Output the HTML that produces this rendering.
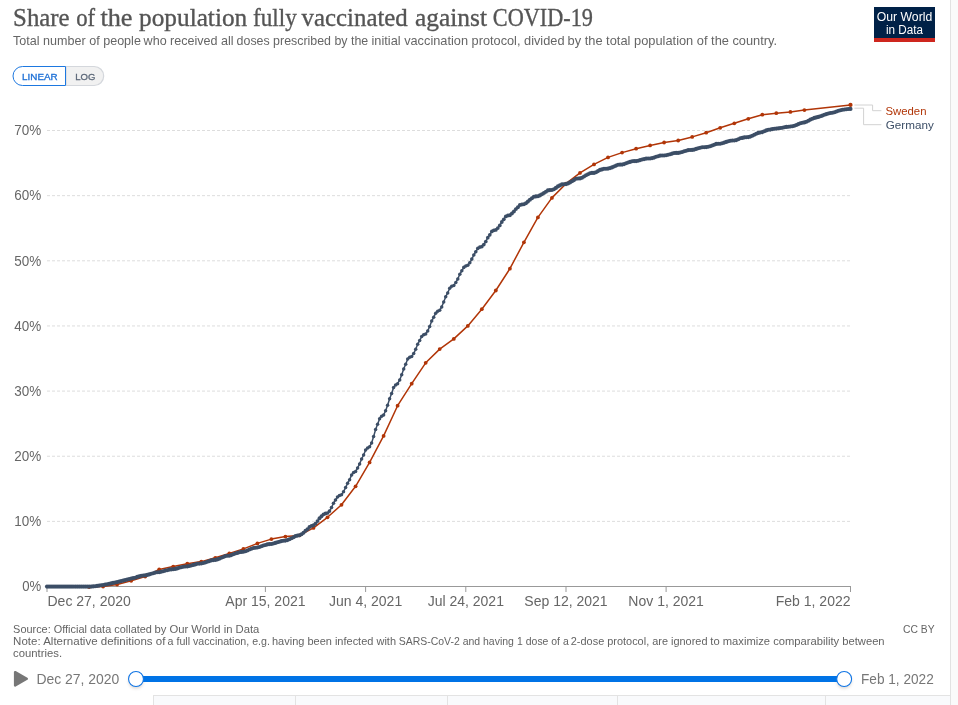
<!DOCTYPE html>
<html lang="en"><head><meta charset="utf-8"><title>Share of the population fully vaccinated against COVID-19</title>
<style>
html,body{margin:0;padding:0;background:#fff;}
body{width:958px;height:705px;overflow:hidden;position:relative;font-family:"Liberation Sans","DejaVu Sans",sans-serif;}
svg{position:absolute;left:0;top:0;display:block;}
text{font-family:"Liberation Sans","DejaVu Sans",sans-serif;}
text.ser{font-family:"Liberation Serif","DejaVu Serif",serif;}
</style></head><body>
<svg width="958" height="705" viewBox="0 0 958 705">
<defs><filter id="hb" x="-50%" y="-50%" width="200%" height="200%"><feGaussianBlur stdDeviation="1.6"/></filter></defs>
<rect x="950.5" y="0" width="8" height="705" fill="#fafafa"/>
<rect x="950" y="0" width="1" height="705" fill="#e2e2e2"/>
<rect x="153" y="695" width="797" height="10" fill="#f9fafc"/>
<rect x="153" y="695" width="797" height="1" fill="#e3e3e3"/>
<rect x="153" y="695" width="1" height="10" fill="#e3e3e3"/>
<rect x="295" y="695" width="1" height="10" fill="#e3e3e3"/>
<rect x="447" y="695" width="1" height="10" fill="#e3e3e3"/>
<rect x="617" y="695" width="1" height="10" fill="#e3e3e3"/>
<rect x="825" y="695" width="1" height="10" fill="#e3e3e3"/>
<text y="26.3" font-size="25.5" fill="#555" class="ser" stroke="#555" stroke-width="0.35"><tspan x="13.1" textLength="56.5" lengthAdjust="spacingAndGlyphs">Share</tspan> <tspan x="76.2" textLength="18.9" lengthAdjust="spacingAndGlyphs">of</tspan> <tspan x="100.4" textLength="32.1" lengthAdjust="spacingAndGlyphs">the</tspan> <tspan x="139.1" textLength="108.1" lengthAdjust="spacingAndGlyphs">population</tspan> <tspan x="253.1" textLength="43.7" lengthAdjust="spacingAndGlyphs">fully</tspan> <tspan x="301.5" textLength="106.3" lengthAdjust="spacingAndGlyphs">vaccinated</tspan> <tspan x="415.0" textLength="72.0" lengthAdjust="spacingAndGlyphs">against</tspan> <tspan x="492.8" textLength="100.2" lengthAdjust="spacingAndGlyphs">COVID-19</tspan></text>
<text y="45" font-size="13" fill="#666"><tspan x="13.1" textLength="127.8" lengthAdjust="spacingAndGlyphs">Total number of people</tspan> <tspan x="143.6" textLength="90.0" lengthAdjust="spacingAndGlyphs">who received all</tspan> <tspan x="236.6" textLength="131.6" lengthAdjust="spacingAndGlyphs">doses prescribed by the</tspan> <tspan x="371.5" textLength="193.0" lengthAdjust="spacingAndGlyphs">initial vaccination protocol, divided</tspan> <tspan x="567.6" textLength="62.8" lengthAdjust="spacingAndGlyphs">by the total</tspan> <tspan x="634.1" textLength="143.0" lengthAdjust="spacingAndGlyphs">population of the country.</tspan></text>
<rect x="874" y="7" width="61" height="35" fill="#002147"/>
<rect x="874" y="38" width="61" height="4" fill="#ce261e"/>
<text x="904.5" y="20.8" font-size="12.3" fill="#fff" text-anchor="middle" textLength="55.5" lengthAdjust="spacingAndGlyphs">Our World</text>
<text x="904.5" y="34.2" font-size="12.3" fill="#fff" text-anchor="middle" textLength="37" lengthAdjust="spacingAndGlyphs">in Data</text>
<path d="M66,66.5 H94.2 A9.5,9.5 0 0 1 94.2,85.5 H66 Z" fill="#f1f1f1" stroke="#d4d7dc" stroke-width="1.2"/>
<path d="M65.5,66.5 H22.5 A9.5,9.5 0 0 0 22.5,85.5 H65.5 Z" fill="#fff" stroke="#1d78e0" stroke-width="1"/>
<text x="22.1" y="79.9" font-size="9.4" fill="#1d70d6" textLength="35.6" lengthAdjust="spacingAndGlyphs" stroke="#1d70d6" stroke-width="0.3">LINEAR</text>
<text x="75.3" y="79.9" font-size="9.4" fill="#5b6778" textLength="20.1" lengthAdjust="spacingAndGlyphs" stroke="#5b6778" stroke-width="0.3">LOG</text>
<text x="41.2" y="591.2" font-size="14" fill="#666" text-anchor="end" textLength="19" lengthAdjust="spacingAndGlyphs">0%</text>
<line x1="47" y1="521.36" x2="850.5" y2="521.36" stroke="#ddd" stroke-width="1" stroke-dasharray="3,2"/>
<text x="41.2" y="526.1" font-size="14" fill="#666" text-anchor="end" textLength="27" lengthAdjust="spacingAndGlyphs">10%</text>
<line x1="47" y1="456.22" x2="850.5" y2="456.22" stroke="#ddd" stroke-width="1" stroke-dasharray="3,2"/>
<text x="41.2" y="460.9" font-size="14" fill="#666" text-anchor="end" textLength="27" lengthAdjust="spacingAndGlyphs">20%</text>
<line x1="47" y1="391.08" x2="850.5" y2="391.08" stroke="#ddd" stroke-width="1" stroke-dasharray="3,2"/>
<text x="41.2" y="395.8" font-size="14" fill="#666" text-anchor="end" textLength="27" lengthAdjust="spacingAndGlyphs">30%</text>
<line x1="47" y1="325.94" x2="850.5" y2="325.94" stroke="#ddd" stroke-width="1" stroke-dasharray="3,2"/>
<text x="41.2" y="330.6" font-size="14" fill="#666" text-anchor="end" textLength="27" lengthAdjust="spacingAndGlyphs">40%</text>
<line x1="47" y1="260.80" x2="850.5" y2="260.80" stroke="#ddd" stroke-width="1" stroke-dasharray="3,2"/>
<text x="41.2" y="265.5" font-size="14" fill="#666" text-anchor="end" textLength="27" lengthAdjust="spacingAndGlyphs">50%</text>
<line x1="47" y1="195.66" x2="850.5" y2="195.66" stroke="#ddd" stroke-width="1" stroke-dasharray="3,2"/>
<text x="41.2" y="200.4" font-size="14" fill="#666" text-anchor="end" textLength="27" lengthAdjust="spacingAndGlyphs">60%</text>
<line x1="47" y1="130.52" x2="850.5" y2="130.52" stroke="#ddd" stroke-width="1" stroke-dasharray="3,2"/>
<text x="41.2" y="135.2" font-size="14" fill="#666" text-anchor="end" textLength="27" lengthAdjust="spacingAndGlyphs">70%</text>
<line x1="46.5" y1="586.5" x2="851" y2="586.5" stroke="#999" stroke-width="1"/>
<line x1="47.0" y1="586.5" x2="47.0" y2="592" stroke="#999" stroke-width="1"/>
<text x="47.5" y="605.8" font-size="14" fill="#666">Dec 27, 2020</text>
<line x1="265.4" y1="586.5" x2="265.4" y2="592" stroke="#999" stroke-width="1"/>
<text x="265.4" y="605.8" font-size="14" fill="#666" text-anchor="middle">Apr 15, 2021</text>
<line x1="365.6" y1="586.5" x2="365.6" y2="592" stroke="#999" stroke-width="1"/>
<text x="365.6" y="605.8" font-size="14" fill="#666" text-anchor="middle">Jun 4, 2021</text>
<line x1="465.8" y1="586.5" x2="465.8" y2="592" stroke="#999" stroke-width="1"/>
<text x="465.8" y="605.8" font-size="14" fill="#666" text-anchor="middle">Jul 24, 2021</text>
<line x1="566.0" y1="586.5" x2="566.0" y2="592" stroke="#999" stroke-width="1"/>
<text x="566.0" y="605.8" font-size="14" fill="#666" text-anchor="middle">Sep 12, 2021</text>
<line x1="666.1" y1="586.5" x2="666.1" y2="592" stroke="#999" stroke-width="1"/>
<text x="666.1" y="605.8" font-size="14" fill="#666" text-anchor="middle">Nov 1, 2021</text>
<line x1="850.5" y1="586.5" x2="850.5" y2="592" stroke="#999" stroke-width="1"/>
<text x="850.5" y="605.8" font-size="14" fill="#666" text-anchor="end">Feb 1, 2022</text>
<g fill="#B13507" stroke="none"><path d="M89.1,587.0 L103.1,586.5 L117.1,584.5 L131.2,580.8 L145.2,576.6 L159.2,569.5 L173.2,566.6 L187.3,563.7 L201.3,561.6 L215.3,557.8 L229.3,553.4 L243.4,548.9 L257.4,543.4 L271.4,539.1 L285.4,536.6 L299.5,535.4 L313.5,527.9 L327.5,517.3 L341.5,504.8 L355.6,486.3 L369.6,462.4 L383.6,435.9 L397.6,405.7 L411.7,383.7 L425.7,362.8 L439.7,349.1 L453.8,338.9 L467.8,325.9 L481.8,309.2 L495.8,290.5 L509.9,268.7 L523.9,242.3 L537.9,217.4 L551.9,197.9 L566.0,183.7 L580.0,172.9 L594.0,164.4 L608.0,157.4 L622.1,152.6 L636.1,148.7 L650.1,145.4 L664.1,142.5 L678.2,140.5 L692.2,136.9 L706.2,132.7 L720.2,127.8 L734.3,123.3 L748.3,118.8 L762.3,114.7 L776.3,113.2 L790.4,111.9 L804.4,110.1 L850.5,104.9" fill="none" stroke="#B13507" stroke-width="1.5" stroke-linejoin="round"/><circle cx="89.1" cy="587.0" r="1.9"/><circle cx="103.1" cy="586.5" r="1.9"/><circle cx="117.1" cy="584.5" r="1.9"/><circle cx="131.2" cy="580.8" r="1.9"/><circle cx="145.2" cy="576.6" r="1.9"/><circle cx="159.2" cy="569.5" r="1.9"/><circle cx="173.2" cy="566.6" r="1.9"/><circle cx="187.3" cy="563.7" r="1.9"/><circle cx="201.3" cy="561.6" r="1.9"/><circle cx="215.3" cy="557.8" r="1.9"/><circle cx="229.3" cy="553.4" r="1.9"/><circle cx="243.4" cy="548.9" r="1.9"/><circle cx="257.4" cy="543.4" r="1.9"/><circle cx="271.4" cy="539.1" r="1.9"/><circle cx="285.4" cy="536.6" r="1.9"/><circle cx="299.5" cy="535.4" r="1.9"/><circle cx="313.5" cy="527.9" r="1.9"/><circle cx="327.5" cy="517.3" r="1.9"/><circle cx="341.5" cy="504.8" r="1.9"/><circle cx="355.6" cy="486.3" r="1.9"/><circle cx="369.6" cy="462.4" r="1.9"/><circle cx="383.6" cy="435.9" r="1.9"/><circle cx="397.6" cy="405.7" r="1.9"/><circle cx="411.7" cy="383.7" r="1.9"/><circle cx="425.7" cy="362.8" r="1.9"/><circle cx="439.7" cy="349.1" r="1.9"/><circle cx="453.8" cy="338.9" r="1.9"/><circle cx="467.8" cy="325.9" r="1.9"/><circle cx="481.8" cy="309.2" r="1.9"/><circle cx="495.8" cy="290.5" r="1.9"/><circle cx="509.9" cy="268.7" r="1.9"/><circle cx="523.9" cy="242.3" r="1.9"/><circle cx="537.9" cy="217.4" r="1.9"/><circle cx="551.9" cy="197.9" r="1.9"/><circle cx="566.0" cy="183.7" r="1.9"/><circle cx="580.0" cy="172.9" r="1.9"/><circle cx="594.0" cy="164.4" r="1.9"/><circle cx="608.0" cy="157.4" r="1.9"/><circle cx="622.1" cy="152.6" r="1.9"/><circle cx="636.1" cy="148.7" r="1.9"/><circle cx="650.1" cy="145.4" r="1.9"/><circle cx="664.1" cy="142.5" r="1.9"/><circle cx="678.2" cy="140.5" r="1.9"/><circle cx="692.2" cy="136.9" r="1.9"/><circle cx="706.2" cy="132.7" r="1.9"/><circle cx="720.2" cy="127.8" r="1.9"/><circle cx="734.3" cy="123.3" r="1.9"/><circle cx="748.3" cy="118.8" r="1.9"/><circle cx="762.3" cy="114.7" r="1.9"/><circle cx="776.3" cy="113.2" r="1.9"/><circle cx="790.4" cy="111.9" r="1.9"/><circle cx="804.4" cy="110.1" r="1.9"/><circle cx="850.5" cy="104.9" r="2.1"/></g>
<g fill="#3C4E66" stroke="none"><path d="M47.0,586.6 L49.0,586.6 L51.0,586.6 L53.0,586.6 L55.0,586.6 L57.0,586.6 L59.0,586.6 L61.0,586.6 L63.0,586.6 L65.0,586.6 L67.0,586.6 L69.0,586.6 L71.0,586.6 L73.0,586.6 L75.1,586.6 L77.1,586.6 L79.1,586.6 L81.1,586.6 L83.1,586.6 L85.1,586.6 L87.1,586.6 L89.1,586.6 L91.1,586.6 L93.1,586.4 L95.1,586.2 L97.1,585.9 L99.1,585.6 L101.1,585.3 L103.1,585.0 L105.1,584.6 L107.1,584.2 L109.1,583.8 L111.1,583.4 L113.1,582.9 L115.1,582.5 L117.1,582.1 L119.1,581.6 L121.1,581.1 L123.1,580.6 L125.1,580.1 L127.1,579.6 L129.2,579.1 L131.2,578.5 L133.2,578.0 L135.2,577.7 L137.2,576.9 L139.2,576.4 L141.2,575.8 L143.2,575.5 L145.2,575.4 L147.2,574.9 L149.2,574.4 L151.2,573.7 L153.2,573.2 L155.2,572.6 L157.2,572.3 L159.2,572.2 L161.2,571.8 L163.2,571.3 L165.2,570.6 L167.2,570.2 L169.2,569.6 L171.2,569.4 L173.2,569.3 L175.2,568.9 L177.2,568.4 L179.2,567.8 L181.2,567.3 L183.3,566.8 L185.3,566.5 L187.3,566.4 L189.3,566.0 L191.3,565.5 L193.3,564.9 L195.3,564.4 L197.3,563.8 L199.3,563.6 L201.3,563.5 L203.3,563.0 L205.3,562.5 L207.3,561.7 L209.3,561.1 L211.3,560.4 L213.3,560.1 L215.3,559.9 L217.3,559.4 L219.3,558.7 L221.3,557.7 L223.3,557.0 L225.3,556.1 L227.3,555.8 L229.3,555.7 L231.3,555.1 L233.3,554.3 L235.3,553.5 L237.4,552.9 L239.4,552.2 L241.4,551.9 L243.4,551.8 L245.4,551.2 L247.4,550.5 L249.4,549.5 L251.4,548.7 L253.4,548.0 L255.4,547.7 L257.4,547.5 L259.4,547.0 L261.4,546.3 L263.4,545.5 L265.4,545.0 L267.4,544.4 L269.4,544.1 L271.4,544.0 L273.4,543.5 L275.4,542.9 L277.4,542.2 L279.4,541.7 L281.4,541.1 L283.4,540.8 L285.4,540.6 L287.4,540.1 L289.4,539.3 L291.5,538.2 L293.5,537.2 L295.5,536.1 L297.5,535.6 L299.5,535.3 L301.5,534.3 L303.5,532.7 L305.5,530.8 L307.5,529.2 L309.5,527.0 L311.5,525.9 L313.5,525.3 L315.5,523.6 L317.5,521.1 L319.5,518.3 L321.5,516.3 L323.5,514.3 L325.5,513.5 L327.5,513.0 L329.5,511.1 L331.5,507.5 L333.5,503.2 L335.5,500.0 L337.5,497.0 L339.5,495.6 L341.5,494.7 L343.5,491.7 L345.6,487.6 L347.6,483.2 L349.6,479.7 L351.6,474.9 L353.6,472.5 L355.6,471.4 L357.6,468.0 L359.6,463.9 L361.6,459.0 L363.6,455.0 L365.6,450.1 L367.6,447.9 L369.6,446.8 L371.6,442.9 L373.6,436.6 L375.6,429.5 L377.6,424.3 L379.6,418.7 L381.6,416.2 L383.6,415.0 L385.6,410.8 L387.6,405.3 L389.6,398.8 L391.6,393.5 L393.6,387.4 L395.6,384.9 L397.6,383.7 L399.7,379.9 L401.7,374.8 L403.7,368.9 L405.7,364.2 L407.7,359.1 L409.7,357.2 L411.7,356.4 L413.7,353.6 L415.7,349.2 L417.7,344.2 L419.7,340.5 L421.7,336.5 L423.7,334.8 L425.7,333.9 L427.7,330.9 L429.7,326.5 L431.7,321.1 L433.7,317.2 L435.7,313.2 L437.7,311.3 L439.7,310.3 L441.7,306.9 L443.7,302.0 L445.7,296.7 L447.7,292.9 L449.7,288.3 L451.7,286.3 L453.8,285.4 L455.8,282.6 L457.8,278.9 L459.8,274.3 L461.8,270.8 L463.8,267.4 L465.8,266.0 L467.8,265.3 L469.8,262.8 L471.8,259.1 L473.8,255.0 L475.8,251.7 L477.8,248.4 L479.8,247.2 L481.8,246.7 L483.8,244.6 L485.8,241.5 L487.8,237.7 L489.8,234.8 L491.8,231.4 L493.8,230.3 L495.8,229.9 L497.8,228.1 L499.8,225.4 L501.8,222.0 L503.8,219.3 L505.8,216.4 L507.9,215.5 L509.9,215.2 L511.9,213.5 L513.9,211.5 L515.9,209.1 L517.9,207.2 L519.9,205.0 L521.9,204.5 L523.9,204.2 L525.9,203.2 L527.9,201.6 L529.9,199.7 L531.9,198.3 L533.9,196.8 L535.9,196.4 L537.9,196.3 L539.9,195.4 L541.9,194.3 L543.9,193.0 L545.9,191.7 L547.9,190.4 L549.9,190.1 L551.9,190.0 L553.9,189.2 L555.9,187.9 L557.9,186.4 L559.9,185.4 L562.0,184.4 L564.0,184.2 L566.0,184.1 L568.0,183.4 L570.0,182.4 L572.0,181.3 L574.0,180.1 L576.0,178.8 L578.0,178.5 L580.0,178.4 L582.0,177.7 L584.0,176.5 L586.0,175.2 L588.0,174.2 L590.0,173.2 L592.0,172.9 L594.0,172.9 L596.0,172.2 L598.0,171.1 L600.0,169.9 L602.0,169.4 L604.0,168.8 L606.0,168.7 L608.0,168.6 L610.0,168.1 L612.0,167.4 L614.0,166.5 L616.1,165.6 L618.1,164.8 L620.1,164.6 L622.1,164.6 L624.1,164.1 L626.1,163.3 L628.1,162.5 L630.1,161.9 L632.1,161.3 L634.1,161.1 L636.1,161.1 L638.1,160.7 L640.1,160.1 L642.1,159.5 L644.1,159.1 L646.1,158.6 L648.1,158.5 L650.1,158.5 L652.1,158.1 L654.1,157.6 L656.1,156.8 L658.1,156.2 L660.1,155.6 L662.1,155.5 L664.1,155.5 L666.1,155.2 L668.1,154.7 L670.2,154.2 L672.2,153.6 L674.2,153.0 L676.2,152.9 L678.2,152.9 L680.2,152.5 L682.2,152.0 L684.2,151.3 L686.2,150.7 L688.2,150.1 L690.2,150.0 L692.2,149.9 L694.2,149.6 L696.2,148.9 L698.2,148.2 L700.2,147.8 L702.2,147.3 L704.2,147.2 L706.2,147.1 L708.2,146.8 L710.2,146.2 L712.2,145.5 L714.2,144.7 L716.2,143.9 L718.2,143.7 L720.2,143.7 L722.2,143.2 L724.3,142.6 L726.3,141.9 L728.3,141.3 L730.3,140.7 L732.3,140.5 L734.3,140.5 L736.3,140.1 L738.3,139.2 L740.3,138.3 L742.3,137.9 L744.3,137.4 L746.3,137.2 L748.3,137.1 L750.3,136.6 L752.3,135.8 L754.3,134.8 L756.3,133.8 L758.3,132.9 L760.3,132.5 L762.3,132.1 L764.3,131.3 L766.3,130.4 L768.3,129.8 L770.3,129.6 L772.3,129.1 L774.3,128.8 L776.3,128.6 L778.4,128.3 L780.4,128.0 L782.4,127.7 L784.4,127.3 L786.4,126.9 L788.4,126.7 L790.4,126.5 L792.4,126.2 L794.4,125.7 L796.4,125.0 L798.4,124.1 L800.4,123.3 L802.4,122.8 L804.4,122.4 L806.4,121.7 L808.4,120.7 L810.4,119.6 L812.4,118.7 L814.4,117.9 L816.4,117.4 L818.4,116.9 L820.4,116.3 L822.4,115.6 L824.4,114.8 L826.4,114.1 L828.4,113.5 L830.4,113.0 L832.5,112.7 L834.5,112.2 L836.5,111.5 L838.5,110.8 L840.5,110.2 L842.5,109.8 L844.5,109.5 L846.5,109.3 L848.5,109.0 L850.5,108.9" fill="none" stroke="#3C4E66" stroke-width="1.5" stroke-linejoin="round"/><circle cx="47.0" cy="586.6" r="2.05"/><circle cx="49.0" cy="586.6" r="2.05"/><circle cx="51.0" cy="586.6" r="2.05"/><circle cx="53.0" cy="586.6" r="2.05"/><circle cx="55.0" cy="586.6" r="2.05"/><circle cx="57.0" cy="586.6" r="2.05"/><circle cx="59.0" cy="586.6" r="2.05"/><circle cx="61.0" cy="586.6" r="2.05"/><circle cx="63.0" cy="586.6" r="2.05"/><circle cx="65.0" cy="586.6" r="2.05"/><circle cx="67.0" cy="586.6" r="2.05"/><circle cx="69.0" cy="586.6" r="2.05"/><circle cx="71.0" cy="586.6" r="2.05"/><circle cx="73.0" cy="586.6" r="2.05"/><circle cx="75.1" cy="586.6" r="2.05"/><circle cx="77.1" cy="586.6" r="2.05"/><circle cx="79.1" cy="586.6" r="2.05"/><circle cx="81.1" cy="586.6" r="2.05"/><circle cx="83.1" cy="586.6" r="2.05"/><circle cx="85.1" cy="586.6" r="2.05"/><circle cx="87.1" cy="586.6" r="2.05"/><circle cx="89.1" cy="586.6" r="2.05"/><circle cx="91.1" cy="586.6" r="2.05"/><circle cx="93.1" cy="586.4" r="2.05"/><circle cx="95.1" cy="586.2" r="2.05"/><circle cx="97.1" cy="585.9" r="2.05"/><circle cx="99.1" cy="585.6" r="2.05"/><circle cx="101.1" cy="585.3" r="2.05"/><circle cx="103.1" cy="585.0" r="2.05"/><circle cx="105.1" cy="584.6" r="2.05"/><circle cx="107.1" cy="584.2" r="2.05"/><circle cx="109.1" cy="583.8" r="2.05"/><circle cx="111.1" cy="583.4" r="2.05"/><circle cx="113.1" cy="582.9" r="2.05"/><circle cx="115.1" cy="582.5" r="2.05"/><circle cx="117.1" cy="582.1" r="2.05"/><circle cx="119.1" cy="581.6" r="2.05"/><circle cx="121.1" cy="581.1" r="2.05"/><circle cx="123.1" cy="580.6" r="2.05"/><circle cx="125.1" cy="580.1" r="2.05"/><circle cx="127.1" cy="579.6" r="2.05"/><circle cx="129.2" cy="579.1" r="2.05"/><circle cx="131.2" cy="578.5" r="2.05"/><circle cx="133.2" cy="578.0" r="2.05"/><circle cx="135.2" cy="577.7" r="2.05"/><circle cx="137.2" cy="576.9" r="2.05"/><circle cx="139.2" cy="576.4" r="2.05"/><circle cx="141.2" cy="575.8" r="2.05"/><circle cx="143.2" cy="575.5" r="2.05"/><circle cx="145.2" cy="575.4" r="2.05"/><circle cx="147.2" cy="574.9" r="2.05"/><circle cx="149.2" cy="574.4" r="2.05"/><circle cx="151.2" cy="573.7" r="2.05"/><circle cx="153.2" cy="573.2" r="2.05"/><circle cx="155.2" cy="572.6" r="2.05"/><circle cx="157.2" cy="572.3" r="2.05"/><circle cx="159.2" cy="572.2" r="2.05"/><circle cx="161.2" cy="571.8" r="2.05"/><circle cx="163.2" cy="571.3" r="2.05"/><circle cx="165.2" cy="570.6" r="2.05"/><circle cx="167.2" cy="570.2" r="2.05"/><circle cx="169.2" cy="569.6" r="2.05"/><circle cx="171.2" cy="569.4" r="2.05"/><circle cx="173.2" cy="569.3" r="2.05"/><circle cx="175.2" cy="568.9" r="2.05"/><circle cx="177.2" cy="568.4" r="2.05"/><circle cx="179.2" cy="567.8" r="2.05"/><circle cx="181.2" cy="567.3" r="2.05"/><circle cx="183.3" cy="566.8" r="2.05"/><circle cx="185.3" cy="566.5" r="2.05"/><circle cx="187.3" cy="566.4" r="2.05"/><circle cx="189.3" cy="566.0" r="2.05"/><circle cx="191.3" cy="565.5" r="2.05"/><circle cx="193.3" cy="564.9" r="2.05"/><circle cx="195.3" cy="564.4" r="2.05"/><circle cx="197.3" cy="563.8" r="2.05"/><circle cx="199.3" cy="563.6" r="2.05"/><circle cx="201.3" cy="563.5" r="2.05"/><circle cx="203.3" cy="563.0" r="2.05"/><circle cx="205.3" cy="562.5" r="2.05"/><circle cx="207.3" cy="561.7" r="2.05"/><circle cx="209.3" cy="561.1" r="2.05"/><circle cx="211.3" cy="560.4" r="2.05"/><circle cx="213.3" cy="560.1" r="2.05"/><circle cx="215.3" cy="559.9" r="2.05"/><circle cx="217.3" cy="559.4" r="2.05"/><circle cx="219.3" cy="558.7" r="2.05"/><circle cx="221.3" cy="557.7" r="2.05"/><circle cx="223.3" cy="557.0" r="2.05"/><circle cx="225.3" cy="556.1" r="2.05"/><circle cx="227.3" cy="555.8" r="2.05"/><circle cx="229.3" cy="555.7" r="2.05"/><circle cx="231.3" cy="555.1" r="2.05"/><circle cx="233.3" cy="554.3" r="2.05"/><circle cx="235.3" cy="553.5" r="2.05"/><circle cx="237.4" cy="552.9" r="2.05"/><circle cx="239.4" cy="552.2" r="2.05"/><circle cx="241.4" cy="551.9" r="2.05"/><circle cx="243.4" cy="551.8" r="2.05"/><circle cx="245.4" cy="551.2" r="2.05"/><circle cx="247.4" cy="550.5" r="2.05"/><circle cx="249.4" cy="549.5" r="2.05"/><circle cx="251.4" cy="548.7" r="2.05"/><circle cx="253.4" cy="548.0" r="2.05"/><circle cx="255.4" cy="547.7" r="2.05"/><circle cx="257.4" cy="547.5" r="2.05"/><circle cx="259.4" cy="547.0" r="2.05"/><circle cx="261.4" cy="546.3" r="2.05"/><circle cx="263.4" cy="545.5" r="2.05"/><circle cx="265.4" cy="545.0" r="2.05"/><circle cx="267.4" cy="544.4" r="2.05"/><circle cx="269.4" cy="544.1" r="2.05"/><circle cx="271.4" cy="544.0" r="2.05"/><circle cx="273.4" cy="543.5" r="2.05"/><circle cx="275.4" cy="542.9" r="2.05"/><circle cx="277.4" cy="542.2" r="2.05"/><circle cx="279.4" cy="541.7" r="2.05"/><circle cx="281.4" cy="541.1" r="2.05"/><circle cx="283.4" cy="540.8" r="2.05"/><circle cx="285.4" cy="540.6" r="2.05"/><circle cx="287.4" cy="540.1" r="2.05"/><circle cx="289.4" cy="539.3" r="2.05"/><circle cx="291.5" cy="538.2" r="2.05"/><circle cx="293.5" cy="537.2" r="2.05"/><circle cx="295.5" cy="536.1" r="2.05"/><circle cx="297.5" cy="535.6" r="2.05"/><circle cx="299.5" cy="535.3" r="2.04"/><circle cx="301.5" cy="534.3" r="2.02"/><circle cx="303.5" cy="532.7" r="2.00"/><circle cx="305.5" cy="530.8" r="1.99"/><circle cx="307.5" cy="529.2" r="1.98"/><circle cx="309.5" cy="527.0" r="1.96"/><circle cx="311.5" cy="525.9" r="1.94"/><circle cx="313.5" cy="525.3" r="1.93"/><circle cx="315.5" cy="523.6" r="1.93"/><circle cx="317.5" cy="521.1" r="1.93"/><circle cx="319.5" cy="518.3" r="1.94"/><circle cx="321.5" cy="516.3" r="1.94"/><circle cx="323.5" cy="514.3" r="1.92"/><circle cx="325.5" cy="513.5" r="1.89"/><circle cx="327.5" cy="513.0" r="1.86"/><circle cx="329.5" cy="511.1" r="1.84"/><circle cx="331.5" cy="507.5" r="1.82"/><circle cx="333.5" cy="503.2" r="1.81"/><circle cx="335.5" cy="500.0" r="1.80"/><circle cx="337.5" cy="497.0" r="1.78"/><circle cx="339.5" cy="495.6" r="1.77"/><circle cx="341.5" cy="494.7" r="1.77"/><circle cx="343.5" cy="491.7" r="1.75"/><circle cx="345.6" cy="487.6" r="1.75"/><circle cx="347.6" cy="483.2" r="1.75"/><circle cx="349.6" cy="479.7" r="1.75"/><circle cx="351.6" cy="474.9" r="1.75"/><circle cx="353.6" cy="472.5" r="1.75"/><circle cx="355.6" cy="471.4" r="1.75"/><circle cx="357.6" cy="468.0" r="1.75"/><circle cx="359.6" cy="463.9" r="1.75"/><circle cx="361.6" cy="459.0" r="1.75"/><circle cx="363.6" cy="455.0" r="1.75"/><circle cx="365.6" cy="450.1" r="1.75"/><circle cx="367.6" cy="447.9" r="1.75"/><circle cx="369.6" cy="446.8" r="1.75"/><circle cx="371.6" cy="442.9" r="1.75"/><circle cx="373.6" cy="436.6" r="1.75"/><circle cx="375.6" cy="429.5" r="1.75"/><circle cx="377.6" cy="424.3" r="1.75"/><circle cx="379.6" cy="418.7" r="1.75"/><circle cx="381.6" cy="416.2" r="1.75"/><circle cx="383.6" cy="415.0" r="1.75"/><circle cx="385.6" cy="410.8" r="1.75"/><circle cx="387.6" cy="405.3" r="1.75"/><circle cx="389.6" cy="398.8" r="1.75"/><circle cx="391.6" cy="393.5" r="1.75"/><circle cx="393.6" cy="387.4" r="1.75"/><circle cx="395.6" cy="384.9" r="1.75"/><circle cx="397.6" cy="383.7" r="1.75"/><circle cx="399.7" cy="379.9" r="1.75"/><circle cx="401.7" cy="374.8" r="1.75"/><circle cx="403.7" cy="368.9" r="1.75"/><circle cx="405.7" cy="364.2" r="1.75"/><circle cx="407.7" cy="359.1" r="1.75"/><circle cx="409.7" cy="357.2" r="1.75"/><circle cx="411.7" cy="356.4" r="1.75"/><circle cx="413.7" cy="353.6" r="1.75"/><circle cx="415.7" cy="349.2" r="1.75"/><circle cx="417.7" cy="344.2" r="1.75"/><circle cx="419.7" cy="340.5" r="1.75"/><circle cx="421.7" cy="336.5" r="1.75"/><circle cx="423.7" cy="334.8" r="1.75"/><circle cx="425.7" cy="333.9" r="1.75"/><circle cx="427.7" cy="330.9" r="1.75"/><circle cx="429.7" cy="326.5" r="1.75"/><circle cx="431.7" cy="321.1" r="1.75"/><circle cx="433.7" cy="317.2" r="1.75"/><circle cx="435.7" cy="313.2" r="1.75"/><circle cx="437.7" cy="311.3" r="1.75"/><circle cx="439.7" cy="310.3" r="1.75"/><circle cx="441.7" cy="306.9" r="1.75"/><circle cx="443.7" cy="302.0" r="1.75"/><circle cx="445.7" cy="296.7" r="1.75"/><circle cx="447.7" cy="292.9" r="1.75"/><circle cx="449.7" cy="288.3" r="1.75"/><circle cx="451.7" cy="286.3" r="1.75"/><circle cx="453.8" cy="285.4" r="1.75"/><circle cx="455.8" cy="282.6" r="1.75"/><circle cx="457.8" cy="278.9" r="1.76"/><circle cx="459.8" cy="274.3" r="1.77"/><circle cx="461.8" cy="270.8" r="1.77"/><circle cx="463.8" cy="267.4" r="1.78"/><circle cx="465.8" cy="266.0" r="1.78"/><circle cx="467.8" cy="265.3" r="1.79"/><circle cx="469.8" cy="262.8" r="1.79"/><circle cx="471.8" cy="259.1" r="1.80"/><circle cx="473.8" cy="255.0" r="1.80"/><circle cx="475.8" cy="251.7" r="1.81"/><circle cx="477.8" cy="248.4" r="1.82"/><circle cx="479.8" cy="247.2" r="1.83"/><circle cx="481.8" cy="246.7" r="1.83"/><circle cx="483.8" cy="244.6" r="1.84"/><circle cx="485.8" cy="241.5" r="1.84"/><circle cx="487.8" cy="237.7" r="1.84"/><circle cx="489.8" cy="234.8" r="1.84"/><circle cx="491.8" cy="231.4" r="1.85"/><circle cx="493.8" cy="230.3" r="1.86"/><circle cx="495.8" cy="229.9" r="1.87"/><circle cx="497.8" cy="228.1" r="1.87"/><circle cx="499.8" cy="225.4" r="1.88"/><circle cx="501.8" cy="222.0" r="1.88"/><circle cx="503.8" cy="219.3" r="1.89"/><circle cx="505.8" cy="216.4" r="1.90"/><circle cx="507.9" cy="215.5" r="1.91"/><circle cx="509.9" cy="215.2" r="1.93"/><circle cx="511.9" cy="213.5" r="1.95"/><circle cx="513.9" cy="211.5" r="1.96"/><circle cx="515.9" cy="209.1" r="1.96"/><circle cx="517.9" cy="207.2" r="1.97"/><circle cx="519.9" cy="205.0" r="1.98"/><circle cx="521.9" cy="204.5" r="1.99"/><circle cx="523.9" cy="204.2" r="2.00"/><circle cx="525.9" cy="203.2" r="2.02"/><circle cx="527.9" cy="201.6" r="2.03"/><circle cx="529.9" cy="199.7" r="2.03"/><circle cx="531.9" cy="198.3" r="2.03"/><circle cx="533.9" cy="196.8" r="2.04"/><circle cx="535.9" cy="196.4" r="2.05"/><circle cx="537.9" cy="196.3" r="2.05"/><circle cx="539.9" cy="195.4" r="2.05"/><circle cx="541.9" cy="194.3" r="2.05"/><circle cx="543.9" cy="193.0" r="2.05"/><circle cx="545.9" cy="191.7" r="2.05"/><circle cx="547.9" cy="190.4" r="2.05"/><circle cx="549.9" cy="190.1" r="2.05"/><circle cx="551.9" cy="190.0" r="2.05"/><circle cx="553.9" cy="189.2" r="2.05"/><circle cx="555.9" cy="187.9" r="2.05"/><circle cx="557.9" cy="186.4" r="2.05"/><circle cx="559.9" cy="185.4" r="2.05"/><circle cx="562.0" cy="184.4" r="2.05"/><circle cx="564.0" cy="184.2" r="2.05"/><circle cx="566.0" cy="184.1" r="2.05"/><circle cx="568.0" cy="183.4" r="2.05"/><circle cx="570.0" cy="182.4" r="2.05"/><circle cx="572.0" cy="181.3" r="2.05"/><circle cx="574.0" cy="180.1" r="2.05"/><circle cx="576.0" cy="178.8" r="2.05"/><circle cx="578.0" cy="178.5" r="2.05"/><circle cx="580.0" cy="178.4" r="2.05"/><circle cx="582.0" cy="177.7" r="2.05"/><circle cx="584.0" cy="176.5" r="2.05"/><circle cx="586.0" cy="175.2" r="2.05"/><circle cx="588.0" cy="174.2" r="2.05"/><circle cx="590.0" cy="173.2" r="2.05"/><circle cx="592.0" cy="172.9" r="2.05"/><circle cx="594.0" cy="172.9" r="2.05"/><circle cx="596.0" cy="172.2" r="2.05"/><circle cx="598.0" cy="171.1" r="2.05"/><circle cx="600.0" cy="169.9" r="2.05"/><circle cx="602.0" cy="169.4" r="2.05"/><circle cx="604.0" cy="168.8" r="2.05"/><circle cx="606.0" cy="168.7" r="2.05"/><circle cx="608.0" cy="168.6" r="2.05"/><circle cx="610.0" cy="168.1" r="2.05"/><circle cx="612.0" cy="167.4" r="2.05"/><circle cx="614.0" cy="166.5" r="2.05"/><circle cx="616.1" cy="165.6" r="2.05"/><circle cx="618.1" cy="164.8" r="2.05"/><circle cx="620.1" cy="164.6" r="2.05"/><circle cx="622.1" cy="164.6" r="2.05"/><circle cx="624.1" cy="164.1" r="2.05"/><circle cx="626.1" cy="163.3" r="2.05"/><circle cx="628.1" cy="162.5" r="2.05"/><circle cx="630.1" cy="161.9" r="2.05"/><circle cx="632.1" cy="161.3" r="2.05"/><circle cx="634.1" cy="161.1" r="2.05"/><circle cx="636.1" cy="161.1" r="2.05"/><circle cx="638.1" cy="160.7" r="2.05"/><circle cx="640.1" cy="160.1" r="2.05"/><circle cx="642.1" cy="159.5" r="2.05"/><circle cx="644.1" cy="159.1" r="2.05"/><circle cx="646.1" cy="158.6" r="2.05"/><circle cx="648.1" cy="158.5" r="2.05"/><circle cx="650.1" cy="158.5" r="2.05"/><circle cx="652.1" cy="158.1" r="2.05"/><circle cx="654.1" cy="157.6" r="2.05"/><circle cx="656.1" cy="156.8" r="2.05"/><circle cx="658.1" cy="156.2" r="2.05"/><circle cx="660.1" cy="155.6" r="2.05"/><circle cx="662.1" cy="155.5" r="2.05"/><circle cx="664.1" cy="155.5" r="2.05"/><circle cx="666.1" cy="155.2" r="2.05"/><circle cx="668.1" cy="154.7" r="2.05"/><circle cx="670.2" cy="154.2" r="2.05"/><circle cx="672.2" cy="153.6" r="2.05"/><circle cx="674.2" cy="153.0" r="2.05"/><circle cx="676.2" cy="152.9" r="2.05"/><circle cx="678.2" cy="152.9" r="2.05"/><circle cx="680.2" cy="152.5" r="2.05"/><circle cx="682.2" cy="152.0" r="2.05"/><circle cx="684.2" cy="151.3" r="2.05"/><circle cx="686.2" cy="150.7" r="2.05"/><circle cx="688.2" cy="150.1" r="2.05"/><circle cx="690.2" cy="150.0" r="2.05"/><circle cx="692.2" cy="149.9" r="2.05"/><circle cx="694.2" cy="149.6" r="2.05"/><circle cx="696.2" cy="148.9" r="2.05"/><circle cx="698.2" cy="148.2" r="2.05"/><circle cx="700.2" cy="147.8" r="2.05"/><circle cx="702.2" cy="147.3" r="2.05"/><circle cx="704.2" cy="147.2" r="2.05"/><circle cx="706.2" cy="147.1" r="2.05"/><circle cx="708.2" cy="146.8" r="2.05"/><circle cx="710.2" cy="146.2" r="2.05"/><circle cx="712.2" cy="145.5" r="2.05"/><circle cx="714.2" cy="144.7" r="2.05"/><circle cx="716.2" cy="143.9" r="2.05"/><circle cx="718.2" cy="143.7" r="2.05"/><circle cx="720.2" cy="143.7" r="2.05"/><circle cx="722.2" cy="143.2" r="2.05"/><circle cx="724.3" cy="142.6" r="2.05"/><circle cx="726.3" cy="141.9" r="2.05"/><circle cx="728.3" cy="141.3" r="2.05"/><circle cx="730.3" cy="140.7" r="2.05"/><circle cx="732.3" cy="140.5" r="2.05"/><circle cx="734.3" cy="140.5" r="2.05"/><circle cx="736.3" cy="140.1" r="2.05"/><circle cx="738.3" cy="139.2" r="2.05"/><circle cx="740.3" cy="138.3" r="2.05"/><circle cx="742.3" cy="137.9" r="2.05"/><circle cx="744.3" cy="137.4" r="2.05"/><circle cx="746.3" cy="137.2" r="2.05"/><circle cx="748.3" cy="137.1" r="2.05"/><circle cx="750.3" cy="136.6" r="2.05"/><circle cx="752.3" cy="135.8" r="2.05"/><circle cx="754.3" cy="134.8" r="2.05"/><circle cx="756.3" cy="133.8" r="2.05"/><circle cx="758.3" cy="132.9" r="2.05"/><circle cx="760.3" cy="132.5" r="2.05"/><circle cx="762.3" cy="132.1" r="2.05"/><circle cx="764.3" cy="131.3" r="2.05"/><circle cx="766.3" cy="130.4" r="2.05"/><circle cx="768.3" cy="129.8" r="2.05"/><circle cx="770.3" cy="129.6" r="2.05"/><circle cx="772.3" cy="129.1" r="2.05"/><circle cx="774.3" cy="128.8" r="2.05"/><circle cx="776.3" cy="128.6" r="2.05"/><circle cx="778.4" cy="128.3" r="2.05"/><circle cx="780.4" cy="128.0" r="2.05"/><circle cx="782.4" cy="127.7" r="2.05"/><circle cx="784.4" cy="127.3" r="2.05"/><circle cx="786.4" cy="126.9" r="2.05"/><circle cx="788.4" cy="126.7" r="2.05"/><circle cx="790.4" cy="126.5" r="2.05"/><circle cx="792.4" cy="126.2" r="2.05"/><circle cx="794.4" cy="125.7" r="2.05"/><circle cx="796.4" cy="125.0" r="2.05"/><circle cx="798.4" cy="124.1" r="2.05"/><circle cx="800.4" cy="123.3" r="2.05"/><circle cx="802.4" cy="122.8" r="2.05"/><circle cx="804.4" cy="122.4" r="2.05"/><circle cx="806.4" cy="121.7" r="2.05"/><circle cx="808.4" cy="120.7" r="2.05"/><circle cx="810.4" cy="119.6" r="2.05"/><circle cx="812.4" cy="118.7" r="2.05"/><circle cx="814.4" cy="117.9" r="2.05"/><circle cx="816.4" cy="117.4" r="2.05"/><circle cx="818.4" cy="116.9" r="2.05"/><circle cx="820.4" cy="116.3" r="2.05"/><circle cx="822.4" cy="115.6" r="2.05"/><circle cx="824.4" cy="114.8" r="2.05"/><circle cx="826.4" cy="114.1" r="2.05"/><circle cx="828.4" cy="113.5" r="2.05"/><circle cx="830.4" cy="113.0" r="2.05"/><circle cx="832.5" cy="112.7" r="2.05"/><circle cx="834.5" cy="112.2" r="2.05"/><circle cx="836.5" cy="111.5" r="2.05"/><circle cx="838.5" cy="110.8" r="2.05"/><circle cx="840.5" cy="110.2" r="2.05"/><circle cx="842.5" cy="109.8" r="2.05"/><circle cx="844.5" cy="109.5" r="2.05"/><circle cx="846.5" cy="109.3" r="2.05"/><circle cx="848.5" cy="109.0" r="2.05"/><circle cx="850.5" cy="108.9" r="2.05"/></g>
<path d="M854.4,105 H872.6 V110.7 H881.4 M854.4,108.2 H863.6 V124.7 H881.4" fill="none" stroke="#d2d2d2" stroke-width="1"/>
<text x="885.5" y="115.3" font-size="10.8" fill="#B13507" textLength="41" lengthAdjust="spacingAndGlyphs">Sweden</text>
<text x="885.8" y="129.1" font-size="10.8" fill="#3C4E66" textLength="48" lengthAdjust="spacingAndGlyphs">Germany</text>
<text y="632.8" font-size="11" fill="#646464"><tspan x="13.1" textLength="138.8" lengthAdjust="spacingAndGlyphs">Source: Official data collated</tspan> <tspan x="154.4" textLength="105.0" lengthAdjust="spacingAndGlyphs">by Our World in Data</tspan></text>
<text y="644.8" font-size="11" fill="#646464"><tspan x="13.1" textLength="152.3" lengthAdjust="spacingAndGlyphs">Note: Alternative definitions of</tspan> <tspan x="167.6" textLength="102.3" lengthAdjust="spacingAndGlyphs">a full vaccination, e.g.</tspan> <tspan x="272.0" textLength="124.0" lengthAdjust="spacingAndGlyphs">having been infected with</tspan> <tspan x="398.7" textLength="115.2" lengthAdjust="spacingAndGlyphs">SARS-CoV-2 and having</tspan> <tspan x="517.1" textLength="51.6" lengthAdjust="spacingAndGlyphs">1 dose of a</tspan> <tspan x="570.8" textLength="136.7" lengthAdjust="spacingAndGlyphs">2-dose protocol, are ignored</tspan> <tspan x="710.3" textLength="174.3" lengthAdjust="spacingAndGlyphs">to maximize comparability between</tspan></text>
<text y="656.8" font-size="11" fill="#646464"><tspan x="13.1" textLength="49.0" lengthAdjust="spacingAndGlyphs">countries.</tspan></text>
<text y="632.8" font-size="11" fill="#646464"><tspan x="903.0" textLength="31.6" lengthAdjust="spacingAndGlyphs">CC BY</tspan></text>
<path d="M15.1,672.1 L26.8,678.8 L15.1,685.5 Z" fill="#777" stroke="#777" stroke-width="2.4" stroke-linejoin="round"/>
<text x="36.4" y="683.7" font-size="14" fill="#777" textLength="83" lengthAdjust="spacingAndGlyphs">Dec 27, 2020</text>
<text x="933.8" y="683.6" font-size="14" fill="#777" text-anchor="end" textLength="72.8" lengthAdjust="spacingAndGlyphs">Feb 1, 2022</text>
<circle cx="136.0" cy="681.2" r="7.6" fill="#5a4a3a" opacity="0.2" filter="url(#hb)"/>
<circle cx="844.15" cy="681.2" r="7.6" fill="#5a4a3a" opacity="0.2" filter="url(#hb)"/>
<rect x="136" y="676" width="708" height="6" fill="#0073e6"/>
<circle cx="136.0" cy="679.0" r="7.45" fill="#fff" stroke="#0f74e4" stroke-width="1.1"/>
<circle cx="844.15" cy="679.0" r="7.45" fill="#fff" stroke="#0f74e4" stroke-width="1.1"/>
</svg>
</body></html>
